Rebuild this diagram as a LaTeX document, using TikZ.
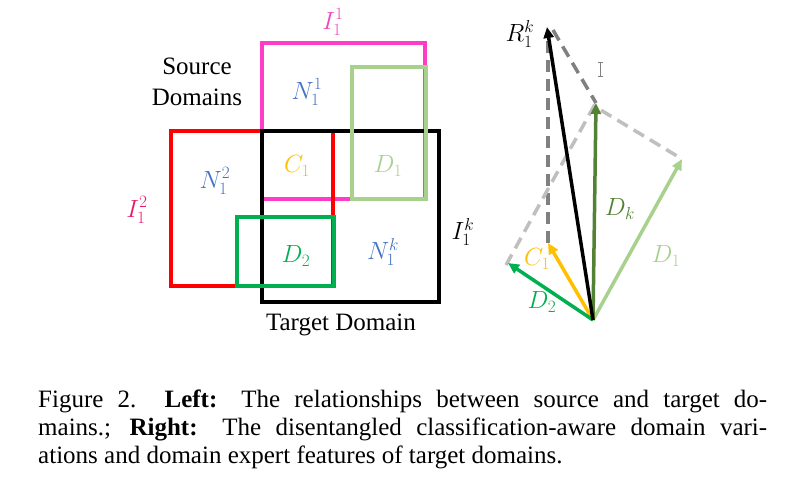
\documentclass[tikz,border=0pt]{standalone}
\usepackage{fontspec}
\setmainfont{Liberation Serif}
\usetikzlibrary{arrows.meta}
\definecolor{cmag}{RGB}{255,60,200}
\definecolor{cmaglbl}{RGB}{240,70,190}
\definecolor{ccrim}{RGB}{230,25,110}
\definecolor{cred}{RGB}{255,0,0}
\definecolor{clgreen}{RGB}{169,209,142}
\definecolor{cgreen}{RGB}{0,176,80}
\definecolor{cdgreen}{RGB}{84,130,53}
\definecolor{cblue}{RGB}{68,114,196}
\definecolor{corange}{RGB}{255,192,0}
\definecolor{cdgray}{RGB}{128,128,128}
\definecolor{clgray}{RGB}{191,191,191}
\begin{document}
\begin{tikzpicture}[x=1pt,y=-1pt,
  box/.style={line width=4pt},
  lbl/.style={inner sep=0pt,font=\fontsize{26}{30}\selectfont},
  txt/.style={inner sep=0pt,font=\fontsize{25}{31}\selectfont,align=center},
  capl/.style={inner sep=0pt,anchor=base west,font=\fontsize{25}{28}\selectfont},
  vec/.style={line width=3.5pt,-{Triangle[length=11pt,width=10pt]}},
  dsh/.style={line width=3.5pt,dash pattern=on 12pt off 7pt}]
\useasboundingbox (0,0) rectangle (799,483);
% rectangles (left)
\draw[box,cmag] (262,43) rectangle (425,199);
\draw[box,cred] (171,131) rectangle (333,286);
\draw[box,black] (262,131) rectangle (439,302);
\draw[box,clgreen,line width=4.5pt] (352,67) rectangle (426,199);
\draw[box,cgreen] (237,217) rectangle (334,286);
% labels (left)
\node[lbl,text=cmaglbl] (i11) at (333,22) {$I_1^1$};
\node[txt] (src) at (197,82) {Source\\Domains};
\node[lbl,text=cblue] (n11) at (307,92) {$N_1^1$};
\node[lbl,text=corange] (c1l) at (297,166) {$C_1$};
\node[lbl,text=clgreen] (d1l) at (388,166) {$D_1$};
\node[lbl,text=cblue] (n12) at (215,181) {$N_1^2$};
\node[lbl,text=ccrim] (i12) at (137,210) {$I_1^2$};
\node[lbl,text=cgreen] (d2l) at (296,256) {$D_2$};
\node[lbl,text=cblue] (n1k) at (383,252) {$N_1^k$};
\node[lbl,text=black] (i1k) at (463,232) {$I_1^k$};
\node[txt] (tgt) at (341,325) {Target Domain};
% vectors (right)
\coordinate (O) at (593,320);
\coordinate (Rt) at (547,27);
\coordinate (Dkt) at (596,103);
\coordinate (D1t) at (682,159);
\coordinate (C1t) at (548,243);
\coordinate (D2t) at (508,263);
\coordinate (Vtop) at (548,32);
\coordinate (Rs) at (553,30);
\coordinate (Ls) at (506,265);
\coordinate (Lm) at (594,106);
\draw[dsh,cdgray] (C1t) -- (Vtop);
\draw[dsh,cdgray] (Rs) -- (Dkt);
\draw[dsh,clgray] (Ls) -- (Lm) -- (D1t);
\draw[vec,clgreen] (O) -- (D1t);
\draw[vec,cdgreen] (O) -- (Dkt);
\draw[vec,corange] (O) -- (C1t);
\draw[vec,cgreen] (O) -- (D2t);
\draw[vec,black] (O) -- (Rt);
\node[lbl] (rl) at (520,34) {$R_1^k$};
\node[lbl,text=cdgreen] (dkl) at (620,209) {$D_k$};
\node[lbl,text=clgreen] (d1r) at (666,256) {$D_1$};
\node[lbl,text=corange] (c1r) at (537,259) {$C_1$};
\node[lbl,text=cgreen] (d2r) at (542,302) {$D_2$};
% text cursor glyph
\draw[cdgray,line width=1pt] (600,62) -- (600,76) (597.5,62) -- (602.5,62) (597.5,76) -- (602.5,76);
% caption
\node[capl] (cap1) at (38,407) {\hbox to 729pt{Figure 2.\ \ \textbf{Left:} The relationships between source and target do-}};
\node[capl] (cap2) at (38,435) {\hbox to 729pt{mains.; \textbf{Right:} The disentangled classification-aware domain vari-}};
\node[capl] (cap3) at (38,463) {ations and domain expert features of target domains.};
\end{tikzpicture}
\end{document}
